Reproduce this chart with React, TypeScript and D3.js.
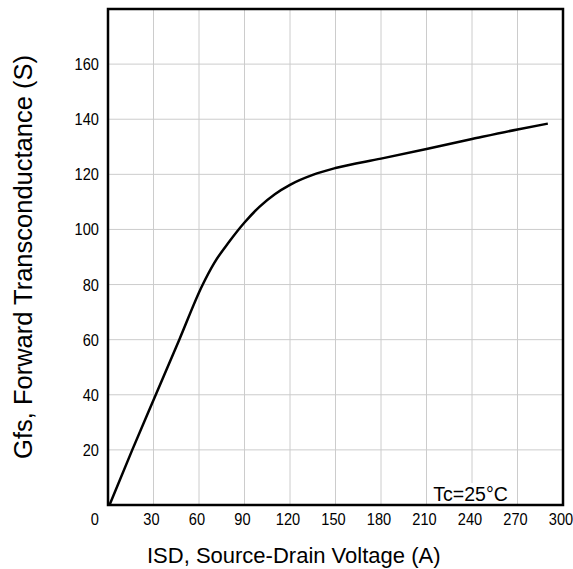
import React from "react";
import * as d3 from "d3";

const xTicks = [30, 60, 90, 120, 150, 180, 210, 240, 270, 300];
const yTicks = [0, 20, 40, 60, 80, 100, 120, 140, 160];
const isdValues = [1, 16, 31.5, 47, 62, 70, 80, 90, 100, 110, 120, 135, 150, 180, 210, 240, 270, 290];
const gfsValues = [0, 20, 40, 60, 79.5, 87.8, 95.6, 102.5, 108.3, 112.8, 116.2, 119.8, 122.3, 125.7, 129.2, 132.8, 136.3, 138.4];
const xTitle = "ISD, Source-Drain Voltage (A)";
const yTitle = "Gfs, Forward Transconductance (S)";
const note = "Tc=25°C";

const W = 573, H = 569;
const left = 108, right = 563, top = 9, bottom = 505;

export default function App() {
  const x = d3.scaleLinear().domain([0, 300]).range([left, right]);
  const y = d3.scaleLinear().domain([0, 180]).range([bottom, top]);
  const pts: [number, number][] = isdValues.map((v, i) => [v, gfsValues[i]]);
  const line = d3.line<[number, number]>().x(d => x(d[0])).y(d => y(d[1])).curve(d3.curveMonotoneX);
  const font = "'Liberation Sans', Arial, sans-serif";
  const sx = 0.86;
  return (
    <svg width={W} height={H} style={{ position: "absolute", left: 0, top: 0, background: "#fff" }}>
      <rect x={0} y={0} width={W} height={H} fill="#fff" />
      {xTicks.filter(t => t < 300).map(t => (
        <line key={"gx" + t} x1={x(t)} x2={x(t)} y1={top} y2={bottom} stroke="#cccccc" strokeWidth={1} />
      ))}
      {yTicks.filter(t => t > 0).map(t => (
        <line key={"gy" + t} x1={left} x2={right} y1={y(t)} y2={y(t)} stroke="#cccccc" strokeWidth={1} />
      ))}
      <rect x={x(215)} y={483} width={x(266) - x(215)} height={bottom - 483} fill="#fff" />
      <text transform={`translate(${x(214.5)},501) scale(0.93,1)`} fontFamily={font} fontSize={21} fill="#000">{note}</text>
      <path d={line(pts) || ""} fill="none" stroke="#000" strokeWidth={2.5} />
      <rect x={left} y={top} width={right - left} height={bottom - top} fill="none" stroke="#000" strokeWidth={2.5} />
      {xTicks.map(t => (
        <text key={"tx" + t} transform={`translate(${x(t) - 2},525) scale(${sx},1)`} textAnchor="middle" fontFamily={font} fontSize={17} fill="#000">{t}</text>
      ))}
      {yTicks.map(t => (
        <text key={"ty" + t} transform={`translate(99,${t === 0 ? 525 : y(t) + 6}) scale(${sx},1)`} textAnchor="end" fontFamily={font} fontSize={17} fill="#000">{t}</text>
      ))}
      <text x={147} y={563} textAnchor="start" fontFamily={font} fontSize={22} fill="#000">{xTitle}</text>
      <text transform={`translate(32, 257) rotate(-90)`} textAnchor="middle" fontFamily={font} fontSize={25.5} fill="#000">{yTitle}</text>
    </svg>
  );
}
